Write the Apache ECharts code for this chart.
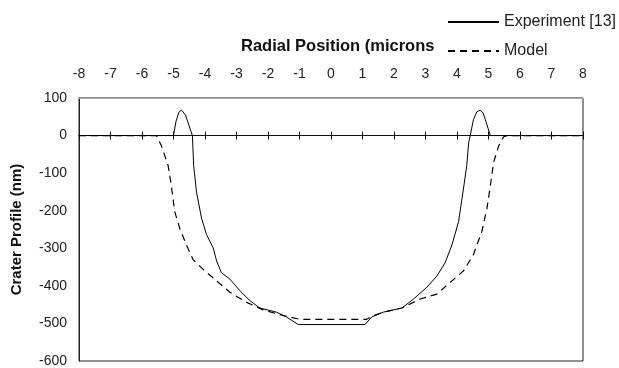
<!DOCTYPE html>
<html>
<head>
<meta charset="utf-8">
<script src="https://cdn.jsdelivr.net/npm/echarts@6/dist/echarts.min.js"></script>
<style>
html,body{margin:0;padding:0;background:#fff;}
#chart{width:619px;height:368px;}
</style>
</head>
<body>
<div id="chart"></div>
<script>
// ---- data ----
var xTicks = [-8,-7,-6,-5,-4,-3,-2,-1,0,1,2,3,4,5,6,7,8];
var yTicks = [100,0,-100,-200,-300,-400,-500,-600];

var expX = [-8,-5.0,-4.92,-4.83,-4.75,-4.62,-4.48,-4.40,-4.36,-4.27,-4.11,-3.95,-3.74,-3.63,-3.48,-3.21,-2.89,-2.58,-2.26,-1.73,-1.41,-1.04,1.08,1.29,1.66,2.25,2.62,3.04,3.36,3.62,3.84,4.05,4.19,4.31,4.37,4.42,4.52,4.63,4.74,4.83,4.90,5.06,8];
var expY = [0,0,38,62,68,55,20,0,-80,-150,-220,-264,-299,-334,-365,-382,-413,-439,-459,-470,-483,-503,-503,-483,-470,-459,-435,-404,-374,-339,-291,-229,-150,-80,-19,0,42,63,68,60,42,0,0];

var modX = [-8,-5.54,-5.38,-5.17,-5.07,-4.96,-4.80,-4.59,-4.38,-4.06,-3.63,-3.21,-2.68,-2.15,-1.52,-0.99,1.13,1.29,1.66,2.25,2.83,3.36,3.78,4.21,4.52,4.79,4.95,5.06,5.16,5.32,5.48,5.59,8];
var modY = [0,0,-28,-80,-133,-203,-247,-291,-330,-356,-387,-417,-444,-464,-479,-489,-489,-481,-470,-459,-435,-422,-391,-360,-317,-255,-194,-133,-72,-28,-3,0,0];

var seriesNames = ['Experiment [13]','Model'];
var xTitle = 'Radial Position (microns';
var yTitle = 'Crater Profile (nm)';

function pairs(xs, ys){ return xs.map(function(x,i){return [x, ys[i]];}); }

var FONT = '"Liberation Sans", Arial, sans-serif';
var chart = echarts.init(document.getElementById('chart'), null, {renderer:'canvas'});

var baseX = {type:'value', min:xTicks[0], max:xTicks[xTicks.length-1], interval:1, splitLine:{show:false}};

chart.setOption({
  animation:false,
  backgroundColor:'#fff',
  title:{text:xTitle, left:236, top:33, textStyle:{fontFamily:FONT, fontSize:16.5, fontWeight:'bold', color:'#111'}},
  legend:{
    orient:'vertical', left:442, top:9, itemWidth:51, itemHeight:14, itemGap:13,
    textStyle:{fontFamily:FONT, fontSize:16, color:'#222'},
    itemStyle:{opacity:0},
    data:seriesNames
  },
  grid:{left:79, right:36, top:98, bottom:3, show:true, borderColor:'#222', borderWidth:1},
  xAxis:[
    Object.assign({}, baseX, {position:'top',
      axisLine:{show:true, onZero:false, lineStyle:{color:'#aaa', width:1}},
      axisTick:{show:false},
      axisLabel:{show:true, margin:17, fontFamily:FONT, fontSize:14, color:'#222'}}),
    Object.assign({}, baseX, {position:'bottom',
      axisLine:{show:true, onZero:true, onZeroAxisIndex:0, lineStyle:{color:'#111', width:1}},
      axisTick:{show:true, inside:true, length:4, lineStyle:{color:'#111', width:1}},
      axisLabel:{show:false}}),
    Object.assign({}, baseX, {position:'bottom',
      axisLine:{show:true, onZero:true, onZeroAxisIndex:0, lineStyle:{color:'#111', width:1}},
      axisTick:{show:true, inside:false, length:4, lineStyle:{color:'#111', width:1}},
      axisLabel:{show:false}})
  ],
  yAxis:{
    type:'value', min:yTicks[yTicks.length-1], max:yTicks[0], interval:100,
    name:yTitle, nameLocation:'middle', nameGap:55,
    nameTextStyle:{fontFamily:FONT, fontSize:15, fontWeight:'bold', color:'#111'},
    axisLine:{show:true, onZero:false, lineStyle:{color:'#222'}},
    axisTick:{show:false},
    splitLine:{show:false},
    axisLabel:{margin:12, fontFamily:FONT, fontSize:14, color:'#222'}
  },
  series:[
    {name:seriesNames[0], type:'line', xAxisIndex:1, data:pairs(expX, expY), symbol:'none', smooth:false,
     lineStyle:{color:'#000', width:1, type:'solid'}, itemStyle:{color:'#000'}, z:5},
    {name:seriesNames[1], type:'line', xAxisIndex:1, data:pairs(modX, modY), symbol:'none', smooth:false,
     lineStyle:{color:'#000', width:1.2, type:[7,5]}, itemStyle:{color:'#000'}, z:4}
  ]
});
</script>
</body>
</html>
